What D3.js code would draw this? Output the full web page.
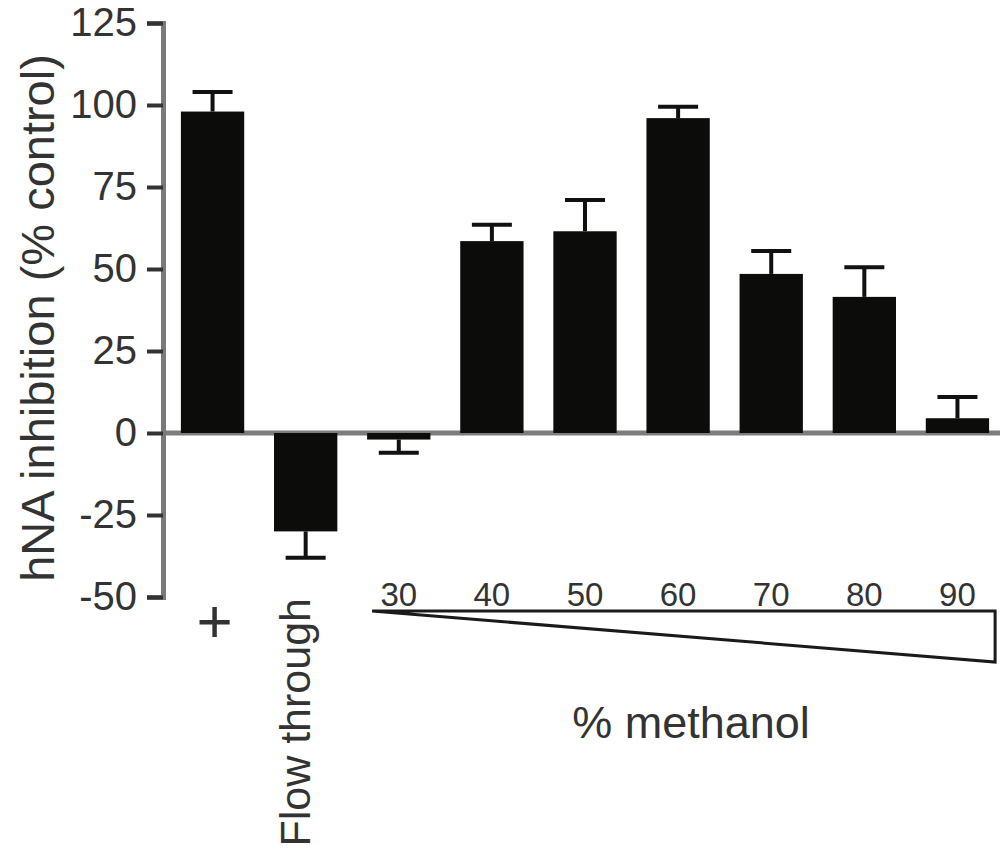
<!DOCTYPE html>
<html>
<head>
<meta charset="utf-8">
<script src="https://cdn.jsdelivr.net/npm/d3@7"></script>
<style>
  body { margin: 0; background: #fff; }
  text { font-family: "Liberation Sans", Arial, sans-serif; fill: #333; }
</style>
</head>
<body>
<script>
const width = 1003
const height = 856

const categories = ["+", "Flow through", "30", "40", "50", "60", "70", "80", "90"]
const values = [98, -30, -2, 58.5, 61.5, 96, 48.5, 41.5, 4.5]
const errors = [6, 8, 4, 5, 9.5, 3.5, 7, 9, 6.5]
const yTicks = [-50, -25, 0, 25, 50, 75, 100, 125]
const methanolLabels = ["30", "40", "50", "60", "70", "80", "90"]

const svg = d3.select("body").append("svg").attr("width", width).attr("height", height)

const x = d3.scaleBand()
  .domain(categories)
  .range([166, 1004])
  .paddingInner(0.32)
  .paddingOuter(0.16)

const y = d3.scaleLinear()
  .domain([-50, 125])
  .range([597, 23])

// zero line
svg.append("line")
  .attr("x1", 163).attr("x2", 1000)
  .attr("y1", y(0)).attr("y2", y(0))
  .style("stroke", "#7d7d7d").style("stroke-width", 5)

// bars
const data = categories.map((c, i) => ({ cat: c, v: values[i], e: errors[i] }))

svg.append("g").selectAll("rect").data(data).join("rect")
  .attr("x", d => x(d.cat))
  .attr("width", x.bandwidth())
  .attr("y", d => y(Math.max(0, d.v)))
  .attr("height", d => Math.abs(y(d.v) - y(0)))
  .style("fill", "#0c0c0a")

// error bars (one-sided, away from zero)
const capW = 40
const err = svg.append("g").selectAll("g").data(data).join("g")
  .attr("transform", d => `translate(${x(d.cat) + x.bandwidth() / 2},0)`)
err.append("line")
  .attr("y1", d => y(d.v))
  .attr("y2", d => y(d.v + Math.sign(d.v) * d.e))
  .style("stroke", "#111").style("stroke-width", 4)
err.append("line")
  .attr("x1", -capW / 2).attr("x2", capW / 2)
  .attr("y1", d => y(d.v + Math.sign(d.v) * d.e))
  .attr("y2", d => y(d.v + Math.sign(d.v) * d.e))
  .style("stroke", "#111").style("stroke-width", 4)

// y axis
const yAxis = svg.append("g")
  .attr("transform", "translate(163,0)")
  .call(d3.axisLeft(y).tickValues(yTicks).tickSize(16).tickPadding(10).tickFormat(d => String(d)))
yAxis.select(".domain").style("stroke", "#7a7a7a").style("stroke-width", 5)
yAxis.selectAll(".tick line").style("stroke", "#333").style("stroke-width", 4)
yAxis.selectAll(".tick text")
  .style("font-size", "40px")
  .style("font-family", "'Liberation Sans', Arial, sans-serif")
  .style("fill", "#333")

// y title
svg.append("text")
  .attr("transform", "translate(54,318) rotate(-90)")
  .attr("text-anchor", "middle")
  .style("font-size", "47px")
  .text("hNA inhibition (% control)")

// category labels
svg.append("text")
  .attr("x", x("+") + x.bandwidth() / 2 + 2)
  .attr("y", 642)
  .attr("text-anchor", "middle")
  .style("font-size", "62px")
  .text("+")

svg.append("text")
  .attr("transform", `translate(${x("Flow through") + x.bandwidth() / 2 + 4},598) rotate(-90)`)
  .attr("text-anchor", "end")
  .style("font-size", "43px")
  .text("Flow through")

svg.append("g").selectAll("text").data(methanolLabels).join("text")
  .attr("x", d => x(d) + x.bandwidth() / 2)
  .attr("y", 606)
  .attr("text-anchor", "middle")
  .style("font-size", "33px")
  .text(d => d)

// gradient triangle
const tx0 = x("30") + 5
const tx1 = x("90") + x.bandwidth() + 6
const ty0 = 611
const ty1 = 662
svg.append("path")
  .attr("d", `M${tx0},${ty0}L${tx1},${ty0}L${tx1},${ty1}Z`)
  .style("fill", "none")
  .style("stroke", "#1a1a1a")
  .style("stroke-width", 3)
  .style("stroke-linejoin", "miter")

svg.append("text")
  .attr("x", 691)
  .attr("y", 738)
  .attr("text-anchor", "middle")
  .style("font-size", "45px")
  .text("% methanol")
</script>
</body>
</html>
